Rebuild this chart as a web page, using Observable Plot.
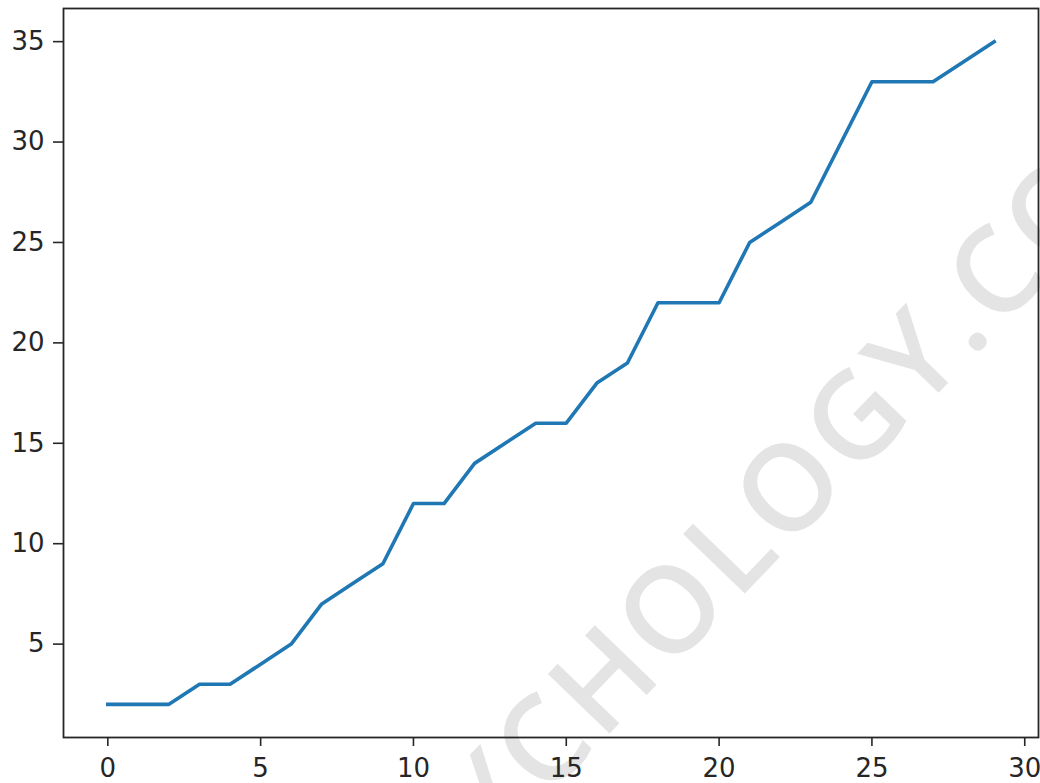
<!DOCTYPE html>
<html>
<head>
<meta charset="utf-8">
<script src="https://cdn.jsdelivr.net/npm/d3@7"></script>
<script src="https://cdn.jsdelivr.net/npm/@observablehq/plot@0.6"></script>
<style>
  html, body { margin: 0; padding: 0; background: white; }
  #chart svg { display: block; }
  .wm text { letter-spacing: 5px; }
</style>
</head>
<body>
<div id="chart"></div>
<script>
// Series: index 0..29 and cumulative count
const xs = [0, 1, 2, 3, 4, 5, 6, 7, 8, 9, 10, 11, 12, 13, 14, 15, 16, 17, 18, 19, 20, 21, 22, 23, 24, 25, 26, 27, 28, 29];
const ys = [2, 2, 2, 3, 3, 4, 5, 7, 8, 9, 12, 12, 14, 15, 16, 16, 18, 19, 22, 22, 22, 25, 26, 27, 30, 33, 33, 33, 34, 35];

// Axis ticks
const xTicks = [0, 5, 10, 15, 20, 25, 30];
const yTicks = [5, 10, 15, 20, 25, 30, 35];

const watermark = ["PSYCHOLOGY.COM"];

const data = xs.map((x, i) => ({x, y: ys[i]}));

const ink = "#262626";

const chart = Plot.plot({
  width: 1040,
  height: 783,
  marginLeft: 63,
  marginRight: 2,
  marginTop: 8,
  marginBottom: 46,
  style: {fontFamily: "DejaVu Sans", fontSize: "26px", background: "white", color: ink},
  x: {domain: [-1.45, 30.45]},
  y: {domain: [0.35, 36.65]},
  marks: [
    Plot.text(watermark, {
      frameAnchor: "top-left",
      dx: 705,
      dy: 505,
      rotate: -46,
      text: d => d,
      fontSize: 120,
      fontWeight: 600,
      fontFamily: "Open Sans",
      fill: "#e4e4e4",
      textAnchor: "middle",
      lineAnchor: "middle",
      className: "wm"
    }),
    Plot.line(data, {
      x: "x",
      y: "y",
      stroke: "#1f77b4",
      strokeWidth: 3.6,
      strokeLinejoin: "round",
      strokeLinecap: "square"
    }),
    Plot.frame({stroke: ink, strokeWidth: 1.8}),
    Plot.axisX({
      ticks: xTicks,
      tickSize: 9,
      tickPadding: 12,
      tickFormat: d => String(d),
      stroke: ink,
      fill: ink,
      strokeWidth: 1.6,
      fontSize: 26,
      label: null
    }),
    Plot.axisY({
      ticks: yTicks,
      tickSize: 10,
      tickPadding: 9,
      tickFormat: d => String(d),
      stroke: ink,
      fill: ink,
      strokeWidth: 1.6,
      fontSize: 26,
      label: null
    })
  ]
});

document.getElementById("chart").appendChild(chart);
</script>
</body>
</html>
